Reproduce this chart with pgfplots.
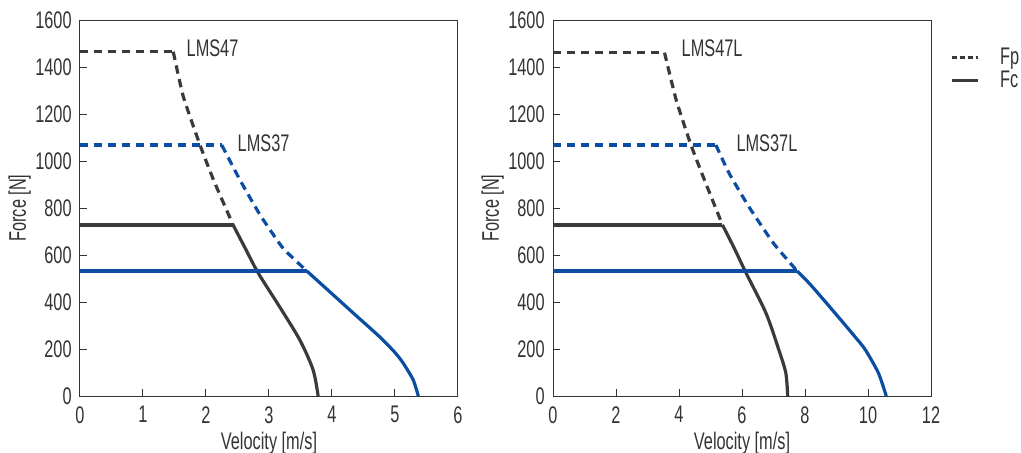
\documentclass[border=0pt]{standalone}
\usepackage{pgfplots}
\pgfplotsset{compat=1.18}
\usepackage{fontspec}
\setmainfont{Liberation Sans}[FakeStretch=0.68]
\definecolor{dk}{HTML}{3A3A3C}
\definecolor{bl}{HTML}{0A4DA2}
\definecolor{tx}{HTML}{333333}
\newcommand{\fs}{\fontsize{12}{12}\selectfont}
\begin{document}
\fs
\begin{tikzpicture}
\pgfplotsset{
  myax/.style={
    scale only axis, width=189pt, height=188pt,
    ymin=0, ymax=1600, ytick={0,200,...,1600},
    tick align=inside, tick pos=left,
    major tick length=3.5pt,
    axis line style={tx, line width=0.5pt},
    every tick/.style={tx, line width=0.5pt},
    tick label style={font=\fs, text=tx},
    label style={font=\fs, text=tx},
    xticklabel style={yshift=-1pt},
    /pgf/number format/assume math mode=true,
    /pgf/number format/1000 sep={},
    xlabel={Velocity [m/s]}, ylabel={Force [N]},
    xlabel style={yshift=4pt}, ylabel style={yshift=-6pt},
    clip=false,
  },
  fp/.style={line width=1.6pt, dash pattern=on 4.2pt off 2.8pt},
  fc/.style={line width=1.6pt},
}
\begin{axis}[myax, at={(0,0)}, anchor=south west, xmin=0, xmax=6, xtick={0,1,...,6}]
\addplot[dk, fp] coordinates {(0,1465) (1.48,1465)};
\addplot[dk, fp, smooth, tension=0.3] coordinates {(1.48,1465) (1.64,1274) (1.905,1068) (2.12,919) (2.43,728)};
\addplot[dk, fc] coordinates {(0,728) (2.43,728)};
\addplot[dk, fc, smooth, tension=0.5] coordinates {(2.43,728) (2.62,630) (2.83,523) (3.17,379) (3.49,238) (3.70,111) (3.78,0)};
\addplot[bl, fp] coordinates {(0,1068) (2.25,1068)};
\addplot[bl, fp, smooth, tension=0.3] coordinates {(2.25,1068) (2.54,919) (2.86,770) (3.22,630) (3.60,532)};
\addplot[bl, fc] coordinates {(0,532) (3.60,532)};
\addplot[bl, fc, smooth, tension=0.4] coordinates {(3.60,532) (4.0,435) (4.4,338) (4.76,251) (5.0,185) (5.13,140) (5.29,68) (5.37,0)};
\node[anchor=west, text=tx, font=\fs] at (axis cs:1.56,1480) {LMS47};
\node[anchor=west, text=tx, font=\fs] at (axis cs:2.37,1075) {LMS37};
\end{axis}
\begin{axis}[myax, at={(236.5pt,0)}, anchor=south west, xmin=0, xmax=12, xtick={0,2,...,12},
  legend style={at={(1.035,0.943)}, anchor=north west, draw=none, fill=none, text=tx, font=\fs, row sep=0pt,
    nodes={text height=8.5pt, text depth=1pt, inner sep=1pt}},
  legend cell align=left,
  legend image code/.code={\draw[#1] (0pt,0pt) -- (13pt,0pt); \path[draw=none] (13pt,0pt) -- (23pt,0pt);}]
\addplot[dk, fp, legend image post style={dash pattern=on 2.6pt off 1.3pt}] coordinates {(0,1461) (3.54,1461)};
\addlegendentry{Fp}
\addplot[dk, fc] coordinates {(0,728) (5.38,728)};
\addlegendentry{Fc}
\addplot[dk, fp, smooth, tension=0.3] coordinates {(3.54,1461) (3.91,1260) (4.38,1068) (4.85,905) (5.38,728)};
\addplot[dk, fc, smooth, tension=0.5] coordinates {(5.38,728) (5.75,630) (6.13,523) (6.76,353) (7.17,196) (7.39,98) (7.45,0)};
\addplot[bl, fp] coordinates {(0,1068) (5.17,1068)};
\addplot[bl, fp, smooth, tension=0.3] coordinates {(5.17,1068) (5.59,948) (6.22,805) (7.0,650) (7.75,532)};
\addplot[bl, fc] coordinates {(0,532) (7.75,532)};
\addplot[bl, fc, smooth, tension=0.4] coordinates {(7.75,532) (8.2,470) (9.06,336) (9.6,250) (9.92,196) (10.33,98) (10.58,0)};
\node[anchor=west, text=tx, font=\fs] at (axis cs:3.82,1480) {LMS47L};
\node[anchor=west, text=tx, font=\fs] at (axis cs:5.56,1075) {LMS37L};
\end{axis}
\pgfresetboundingbox
\path[use as bounding box] (-40pt,-28pt) rectangle (470.5pt,198pt);
\end{tikzpicture}
\end{document}
